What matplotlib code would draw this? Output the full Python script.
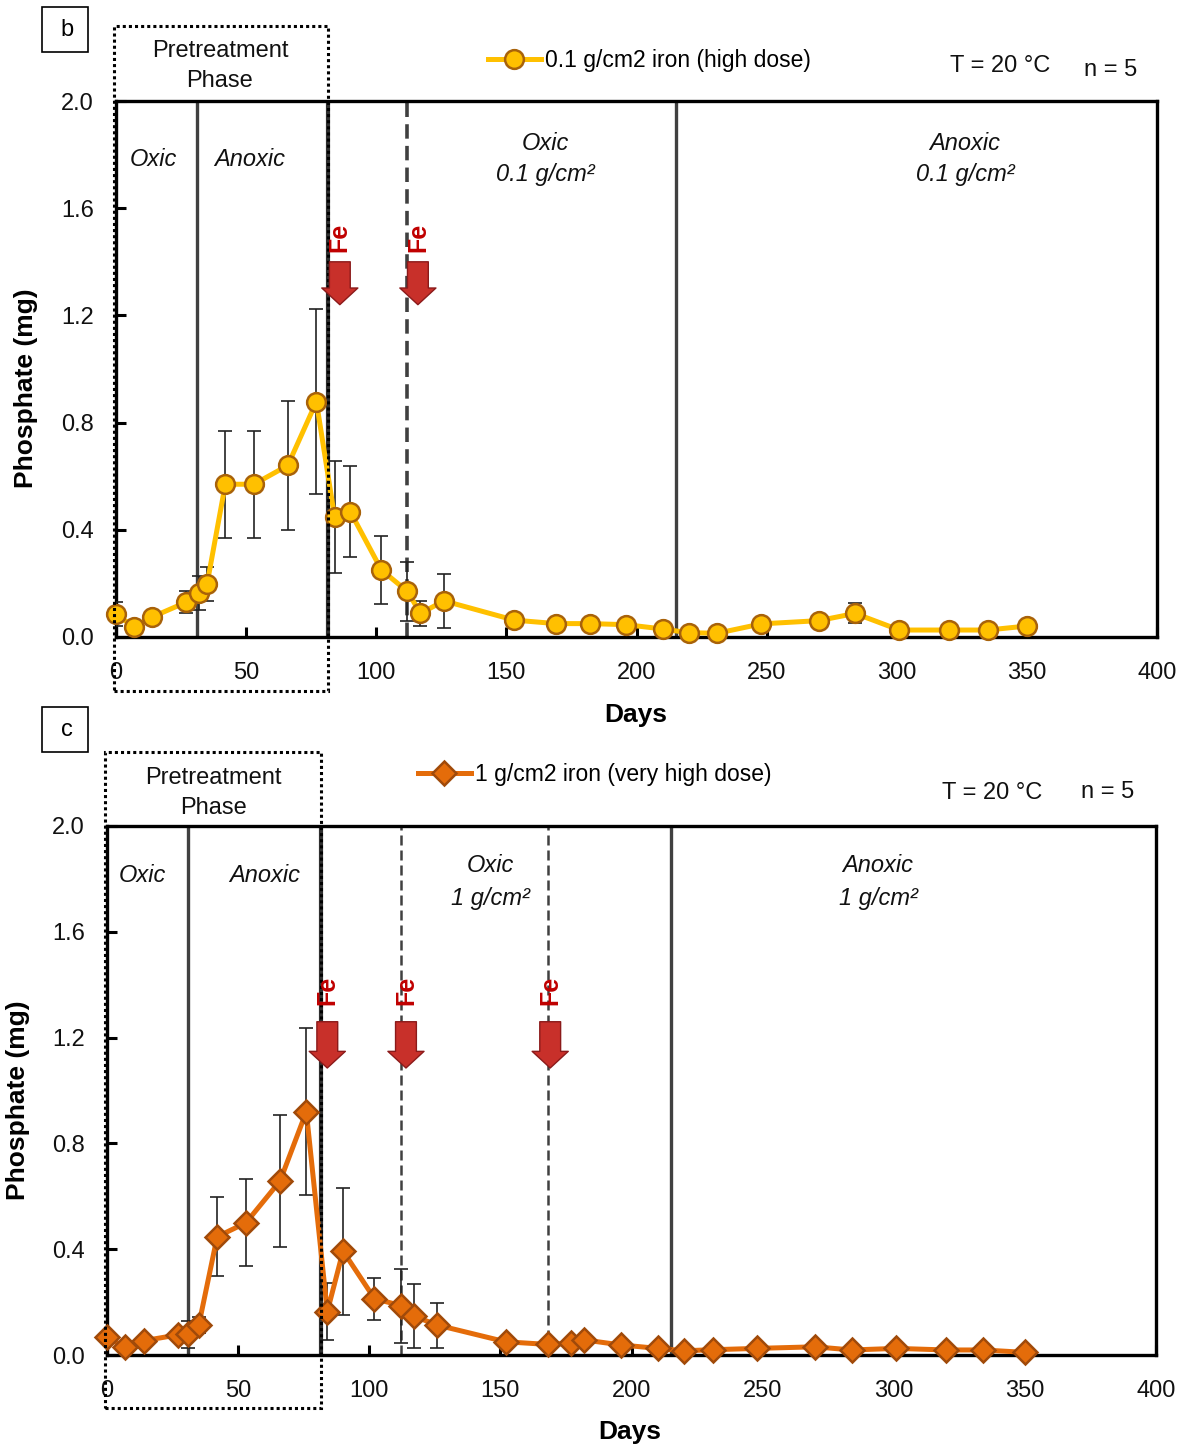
import numpy as np
import matplotlib
matplotlib.use('Agg')
import matplotlib.pyplot as plt
from matplotlib.patches import Rectangle

plt.rcParams['font.family'] = ['Liberation Sans', 'DejaVu Sans']

# ---- Data: panel b (0.1 g/cm2 iron) ----
days_b = [0, 7, 14, 27, 32, 35, 42, 53, 66, 77, 84, 90, 102, 112, 117, 126,
          153, 169, 182, 196, 210, 220, 231, 248, 270, 284, 301, 320, 335, 350]
phos_b = [0.085, 0.037, 0.075, 0.13, 0.163, 0.198, 0.57, 0.57, 0.64, 0.878,
          0.447, 0.468, 0.25, 0.17, 0.088, 0.135, 0.063, 0.05, 0.05, 0.046,
          0.03, 0.016, 0.014, 0.049, 0.061, 0.088, 0.026, 0.026, 0.026, 0.041]
err_b = [0.045, 0, 0.02, 0.04, 0.063, 0.065, 0.2, 0.2, 0.24, 0.345,
         0.21, 0.17, 0.127, 0.11, 0.047, 0.1, 0, 0, 0, 0,
         0, 0, 0, 0, 0, 0.037, 0, 0, 0, 0]

# ---- Data: panel c (1 g/cm2 iron) ----
days_c = [0, 7, 14, 27, 31, 35, 42, 53, 66, 76, 84, 90, 102, 112, 117, 126,
          152, 168, 177, 182, 196, 210, 220, 231, 248, 270, 284, 301, 320, 334, 350]
phos_c = [0.067, 0.029, 0.054, 0.076, 0.078, 0.113, 0.447, 0.50, 0.658, 0.92,
          0.164, 0.393, 0.213, 0.187, 0.147, 0.113, 0.05, 0.04, 0.044, 0.057,
          0.038, 0.025, 0.016, 0.02, 0.025, 0.031, 0.019, 0.025, 0.019, 0.019, 0.01]
err_c = [0, 0, 0.01, 0.02, 0.05, 0.03, 0.15, 0.165, 0.25, 0.315,
         0.108, 0.24, 0.08, 0.14, 0.12, 0.085, 0, 0, 0, 0,
         0, 0, 0, 0, 0, 0, 0, 0, 0, 0, 0]

# phase boundaries (days)
solid_b, dashed_b = [31, 215], [112]
solid_c, dashed_c = [31, 215], [112, 168]
fe_b = [86, 116]
fe_c = [84, 114, 169]

W, H = 1183, 1450
fig = plt.figure(figsize=(W / 100, H / 100), dpi=100)


def px(x, y):
    return x / W, 1 - y / H


def setup_axes(rect):
    ax = fig.add_axes(rect)
    ax.set_xlim(0, 400)
    ax.set_ylim(0, 2.0)
    ax.set_xticks(np.arange(0, 401, 50))
    ax.set_yticks(np.arange(0, 2.01, 0.4))
    ax.set_yticklabels([f'{v:.1f}' for v in np.arange(0, 2.01, 0.4)])
    ax.tick_params(direction='in', length=7, width=2.2, labelsize=17, pad=16,
                   labelcolor='#111111')
    ax.tick_params(axis='x', pad=18)
    for s in ax.spines.values():
        s.set_linewidth(2.4)
    return ax


def draw_panel(ax, days, phos, err, color, edge, marker, ms, solids, dashes,
               dash_lw, fe_days, fe_y, arrow_y, label):
    for d in solids:
        ax.axvline(d, color='#404040', lw=2.4, zorder=2)
    ax.axvline(81.5, color='#303030', lw=3, zorder=2)
    for d in dashes:
        ax.axvline(d, color='#404040', lw=dash_lw, ls=(0, (4, 2)), zorder=2)
    ax.add_patch(Rectangle((-0.8, -0.2), 82.3, 2.48, fill=False, ec='black',
                           lw=2.2, ls=(0, (1, 1)), clip_on=False, zorder=5))
    ax.errorbar(days, phos, yerr=err, fmt='none', ecolor='#222222',
                elinewidth=1.2, capsize=5, capthick=1.2, zorder=3)
    line, = ax.plot(days, phos, color=color, lw=3.6, marker=marker, ms=ms,
                    mfc=color, mec=edge, mew=1.8, zorder=4, label=label,
                    clip_on=False)
    for d in fe_days:
        ax.text(d, fe_y, 'Fe', rotation=90, color='#C00000', fontsize=18,
                fontweight='bold', ha='center', va='center', zorder=6)
        ax.annotate('', xy=(d, arrow_y[1]), xytext=(d, arrow_y[0]),
                    arrowprops=dict(arrowstyle='simple,head_length=0.6,head_width=1.3,tail_width=0.75',
                                    mutation_scale=20, fc='#C8302A', ec='#8B1A1A',
                                    lw=1, shrinkA=0, shrinkB=0), zorder=6)
    return line


# ---- Panel b ----
axb = setup_axes([116 / W, 1 - 637 / H, (1157 - 116) / W, (637 - 101) / H])
lb = draw_panel(axb, days_b, phos_b, err_b, '#FFC000', '#A8620A', 'o', 13.5,
                solid_b, dashed_b, 2.6, fe_b, 1.49, (1.40, 1.24),
                '0.1 g/cm2 iron (high dose)')
fig.legend(handles=[lb], loc='center left', bbox_to_anchor=px(488, 61),
           frameon=False, fontsize=16.5, handlelength=2.3, handletextpad=0.2,
           borderpad=0, borderaxespad=0)

# ---- Panel c ----
axc = setup_axes([107 / W, 1 - 1355 / H, (1156 - 107) / W, (1355 - 826) / H])
lc = draw_panel(axc, days_c, phos_c, err_c, '#E46C0A', '#A04A0A', 'D', 12.5,
                solid_c, dashed_c, 1.8, fe_c, 1.38, (1.26, 1.085),
                '1 g/cm2 iron (very high dose)')
fig.legend(handles=[lc], loc='center left', bbox_to_anchor=px(418, 775),
           frameon=False, fontsize=16.5, handlelength=2.3, handletextpad=0.2,
           borderpad=0, borderaxespad=0)

# ---- Text annotations ----
fs = 17
texts = [
    # panel b
    ((220, 66), 'Pretreatment\nPhase', 'normal'),
    ((153, 160), 'Oxic', 'italic'),
    ((250, 160), 'Anoxic', 'italic'),
    ((545, 159), 'Oxic\n0.1 g/cm\u00b2', 'italic'),
    ((965, 159), 'Anoxic\n0.1 g/cm\u00b2', 'italic'),
    ((1000, 66), 'T = 20 \u00b0C', 'normal'),
    ((1111, 70), 'n = 5', 'normal'),
    # panel c
    ((213, 793), 'Pretreatment\nPhase', 'normal'),
    ((142, 876), 'Oxic', 'italic'),
    ((265, 876), 'Anoxic', 'italic'),
    ((490, 882), 'Oxic\n1 g/cm\u00b2', 'italic'),
    ((878, 882), 'Anoxic\n1 g/cm\u00b2', 'italic'),
    ((992, 793), 'T = 20 \u00b0C', 'normal'),
    ((1108, 792), 'n = 5', 'normal'),
]
for (x, y), s, st in texts:
    fig.text(*px(x, y), s, ha='center', va='center', fontsize=fs, style=st,
             linespacing=1.5, color='#111111')

# panel letters in square boxes
for (x0, y0), s in [((42, 7), 'b'), ((42, 707), 'c')]:
    fig.add_artist(Rectangle(px(x0, y0 + 45), 46 / W, 45 / H, fill=False,
                             ec='black', lw=1.2, transform=fig.transFigure))
    fig.text(*px(x0 + 25, y0 + 23), s, ha='center', va='center', fontsize=17)

# axis labels
for (x, y) in [(26, 388), (18, 1100)]:
    fig.text(*px(x, y), 'Phosphate (mg)', rotation=90, ha='center',
             va='center', fontsize=19, fontweight='bold')
for (x, y) in [(636, 715), (630, 1432)]:
    fig.text(*px(x, y), 'Days', ha='center', va='center', fontsize=19,
             fontweight='bold')

fig.savefig('out.png', dpi=100)
